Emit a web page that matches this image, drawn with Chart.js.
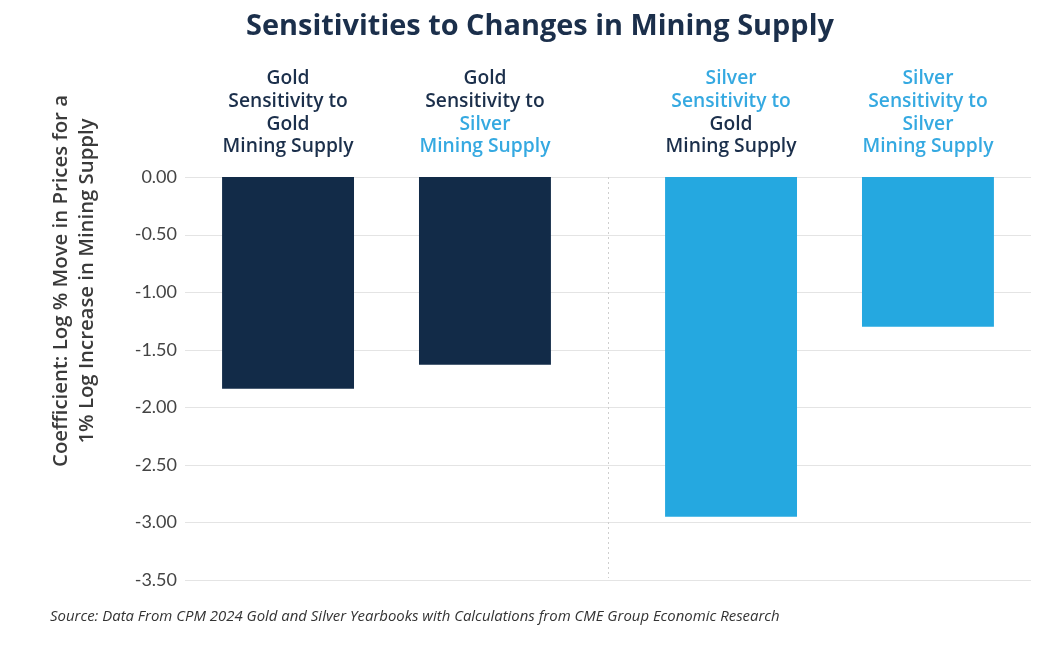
<!DOCTYPE html>
<html>
<head>
<meta charset="utf-8">
<script src="https://cdn.jsdelivr.net/npm/chart.js@4"></script>
<style>
  html, body { margin: 0; padding: 0; background: #ffffff; }
  #wrap { width: 1064px; height: 652px; position: relative; }
</style>
</head>
<body>
<div id="wrap"><canvas id="c" width="1064" height="652"></canvas></div>
<script>
// ---- Data ----
const chartTitle = "Sensitivities to Changes in Mining Supply";
const priceCommodities = ["Gold", "Silver"];          // whose price responds (x categories)
const supplyCommodities = ["Gold", "Silver"];         // whose mining supply changes (datasets)
const sensitivityToGoldSupply = [-1.84, -2.95];
const sensitivityToSilverSupply = [-1.63, -1.30];
const yMin = -3.5, yMax = 0, yStep = 0.5;
const yAxisTitle = ["Coefficient: Log % Move in Prices for a", "1% Log Increase in Mining Supply"];
const sourceNote = "Source: Data From CPM 2024 Gold and Silver Yearbooks with Calculations from CME Group Economic Research";

// ---- Styles ----
const NAVY = "#122b48";
const BLUE = "#25a8e0";
const NAVY_TEXT = "#1b2f4b";
const BLUE_TEXT = "#35a9e1";
const commodityBar = { Gold: NAVY, Silver: BLUE };
const commodityText = { Gold: NAVY_TEXT, Silver: BLUE_TEXT };
const FONT = "'Open Sans', 'Noto Sans', sans-serif";
const TICK_FONT = "18px Lato, 'Open Sans', sans-serif";
const GRID_INSET = 20;

function fitFont(ctx, text, style, targetWidth) {
  ctx.font = style + " 100px " + FONT;
  const w = ctx.measureText(text).width;
  const size = 100 * targetWidth / w;
  ctx.font = style + " " + size.toFixed(2) + "px " + FONT;
}

const decorPlugin = {
  id: "decor",
  beforeDatasetsDraw(chart) {
    const ctx = chart.ctx, area = chart.chartArea, xs = chart.scales.x, ys = chart.scales.y;
    ctx.save();
    // horizontal grid lines and labels at each y tick (grid inset from the plot edges)
    ctx.strokeStyle = "#e4e4e4";
    ctx.lineWidth = 1;
    ctx.fillStyle = "#444444";
    ctx.font = TICK_FONT;
    ctx.textAlign = "right";
    ctx.textBaseline = "middle";
    ys.ticks.forEach(t => {
      const yp = ys.getPixelForValue(t.value);
      const y = Math.round(yp) + 0.5;
      ctx.beginPath();
      ctx.moveTo(area.left + GRID_INSET, y);
      ctx.lineTo(area.right - GRID_INSET, y);
      ctx.stroke();
      ctx.fillText(Number(t.value).toFixed(2), area.left + GRID_INSET - 8, yp);
    });
    // dotted divider between the two groups
    const xDiv = (xs.getPixelForValue(0) + xs.getPixelForValue(1)) / 2;
    ctx.strokeStyle = "#cfcfcf";
    ctx.setLineDash([2, 3]);
    ctx.beginPath();
    ctx.moveTo(Math.round(xDiv) + 0.5, area.top);
    ctx.lineTo(Math.round(xDiv) + 0.5, area.bottom - 2);
    ctx.stroke();
    ctx.restore();
  },
  afterDraw(chart) {
    const ctx = chart.ctx, area = chart.chartArea;
    ctx.save();
    ctx.textAlign = "center";
    ctx.textBaseline = "middle";
    // title
    ctx.fillStyle = NAVY_TEXT;
    fitFont(ctx, chartTitle, "bold", 588);
    ctx.fillText(chartTitle, 540, 27);

    // header labels above each bar
    fitFont(ctx, "Mining Supply", "600", 131);
    const lineH = 22.7;
    chart.data.datasets.forEach((ds, di) => {
      const meta = chart.getDatasetMeta(di);
      meta.data.forEach((bar, i) => {
        const price = priceCommodities[i];
        const supply = supplyCommodities[di];
        const lines = [
          [price, commodityText[price]],
          ["Sensitivity to", commodityText[price]],
          [supply, commodityText[supply]],
          ["Mining Supply", commodityText[supply]]
        ];
        lines.forEach((ln, k) => {
          ctx.fillStyle = ln[1];
          ctx.fillText(ln[0], bar.x, area.top - 30 - (3 - k) * lineH);
        });
      });
    });

    // y-axis title (two lines, rotated)
    ctx.save();
    ctx.translate(74, 281);
    ctx.rotate(-Math.PI / 2);
    ctx.fillStyle = "#3a3a3a";
    fitFont(ctx, yAxisTitle[0], "600", 372);
    ctx.fillText(yAxisTitle[0], 0, -13);
    ctx.fillText(yAxisTitle[1], 0, 13);
    ctx.restore();

    // source note
    ctx.fillStyle = "#333333";
    fitFont(ctx, sourceNote, "italic", 730);
    ctx.textAlign = "left";
    ctx.fillText(sourceNote, 50, 617);
    ctx.restore();
  }
};

new Chart(document.getElementById("c"), {
  type: "bar",
  data: {
    labels: priceCommodities,
    datasets: [
      {
        label: "Sensitivity to Gold Mining Supply",
        data: sensitivityToGoldSupply,
        backgroundColor: priceCommodities.map(c => commodityBar[c]),
        borderWidth: 0,
        categoryPercentage: 0.889,
        barPercentage: 0.67
      },
      {
        label: "Sensitivity to Silver Mining Supply",
        data: sensitivityToSilverSupply,
        backgroundColor: priceCommodities.map(c => commodityBar[c]),
        borderWidth: 0,
        categoryPercentage: 0.889,
        barPercentage: 0.67
      }
    ]
  },
  options: {
    responsive: false,
    animation: false,
    devicePixelRatio: 1,
    layout: { padding: { top: 177, bottom: 72, left: 0, right: 13 } },
    plugins: {
      legend: { display: false },
      title: { display: false },
      tooltip: { enabled: false }
    },
    scales: {
      x: {
        display: false,
        grid: { display: false }
      },
      y: {
        min: yMin,
        max: yMax,
        afterFit(scale) { scale.width = 165; },
        border: { display: false },
        grid: { display: false, drawTicks: false },
        ticks: {
          stepSize: yStep,
          display: false
        }
      }
    }
  },
  plugins: [decorPlugin]
});
</script>
</body>
</html>
